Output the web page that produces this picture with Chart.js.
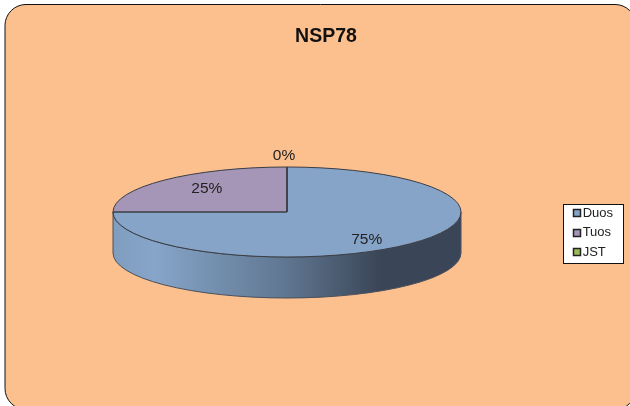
<!DOCTYPE html>
<html>
<head>
<meta charset="utf-8">
<style>
  html, body { margin: 0; padding: 0; background: #fff; overflow: hidden; }
  #wrap { width: 630px; height: 406px; position: relative; }
</style>
<script src="https://cdn.jsdelivr.net/npm/chart.js@4"></script>
</head>
<body>
<div id="wrap"><canvas id="c" width="630" height="406"></canvas></div>
<script>
'use strict';
const FONT = '"Liberation Sans", Arial, sans-serif';
const TITLE = 'NSP78';
const categories = ['Duos', 'Tuos', 'JST'];
const shares = [75, 25, 0];
const sliceColors = ['#86A4C8', '#A595B6', '#9BBB59'];

// Where the flattened pie ends up on the page.
const PIE = { cx: 287, cy: 212, rx: 174, ry: 45, depth: 41 };
// Label placement along each slice's mid angle, as fraction of rx/ry, plus a nudge.
const LABEL_FRAC = [[0.64, 0.85], [0.66, 0.75], [0, 1.27]];
const LABEL_NUDGE = [[1, 1], [1, 1], [-3, 1]];

// Maps the library's arc geometry to the ellipse.
const toPie = (arc, ctx) => {
  const sx = PIE.rx / arc.outerRadius, sy = PIE.ry / arc.outerRadius;
  ctx.translate(PIE.cx, PIE.cy);
  ctx.scale(sx, sy);
  ctx.translate(-arc.x, -arc.y);
};

const pie3d = {
  id: 'pie3d',
  beforeDraw(chart) {
    const ctx = chart.ctx, leg = chart.legend, hits = leg.legendHitBoxes;
    ctx.save();
    // chart frame, runs off the right and bottom edge
    ctx.beginPath();
    ctx.roundRect(5, 4.5, 631, 405, 21);
    ctx.fillStyle = '#FCC08F';
    ctx.fill();
    ctx.strokeStyle = '#111';
    ctx.lineWidth = 1;
    ctx.stroke();
    // legend box, hugging the rows rather than the full layout column
    const midOf = h => h.top + h.height / 2;
    const top = Math.round(midOf(hits[0]) - 9.5) + .5;
    const bottom = Math.round(midOf(hits[hits.length - 1]) + 10.5) + .5;
    const left = Math.round(leg.left) + .5, width = Math.round(leg.width);
    ctx.fillStyle = '#fff';
    ctx.fillRect(left, top, width, bottom - top);
    ctx.strokeStyle = '#111';
    ctx.strokeRect(left, top, width, bottom - top);
    ctx.restore();
  },
  afterDraw(chart) {
    // legend swatches sit closer to their text than the library's fixed gap allows
    const ctx = chart.ctx;
    ctx.save();
    chart.legend.legendHitBoxes.forEach((h, i) => {
      const x = Math.round(h.left) + 4.5, y = Math.round(h.top + h.height / 2 - 4) + .5;
      ctx.fillStyle = sliceColors[i];
      ctx.fillRect(x, y, 7, 7);
      ctx.strokeStyle = '#222';
      ctx.lineWidth = 1.5;
      ctx.strokeRect(x, y, 7, 7);
    });
    ctx.restore();
  },
  beforeDatasetDraw(chart) {
    const ctx = chart.ctx, arcs = chart.getDatasetMeta(0).data;
    ctx.save();
    // side wall: only the part of each slice that faces the viewer
    const { cx, cy, rx, ry, depth } = PIE;
    arcs.forEach(arc => {
      const a0 = Math.max(arc.startAngle, 0), a1 = Math.min(arc.endAngle, Math.PI);
      if (a1 <= a0) return;
      const g = ctx.createLinearGradient(cx - rx, 0, cx + rx, 0);
      g.addColorStop(0, '#7F9DBE');
      g.addColorStop(0.12, '#86A5C9');
      g.addColorStop(0.5, '#5F7690');
      g.addColorStop(0.77, '#3A4557');
      g.addColorStop(1, '#3A4557');
      ctx.beginPath();
      ctx.ellipse(cx, cy, rx, ry, 0, a0, a1);
      ctx.lineTo(cx + rx * Math.cos(a1), cy + ry * Math.sin(a1) + depth);
      ctx.ellipse(cx, cy + depth, rx, ry, 0, a1, a0, true);
      ctx.closePath();
      ctx.fillStyle = g;
      ctx.fill();
      ctx.strokeStyle = '#4a505c';
      ctx.lineWidth = 1;
      ctx.stroke();
    });
    // flatten the arcs the library draws next
    toPie(arcs[0], ctx);
  },
  afterDatasetDraw(chart) {
    const ctx = chart.ctx, arcs = chart.getDatasetMeta(0).data;
    ctx.restore();
    const { cx, cy, rx, ry } = PIE;
    ctx.save();
    ctx.strokeStyle = '#3a3e46';
    ctx.lineWidth = 1;
    // slice outlines stay thin, so they are stroked after the flattening is gone
    arcs.forEach(arc => {
      ctx.beginPath();
      ctx.moveTo(cx, cy);
      ctx.ellipse(cx, cy, rx, ry, 0, arc.startAngle, arc.endAngle);
      ctx.closePath();
      ctx.stroke();
    });
    ctx.fillStyle = '#222';
    ctx.font = '15.5px ' + FONT;
    ctx.textAlign = 'center';
    ctx.textBaseline = 'middle';
    const total = shares.reduce((a, b) => a + b, 0);
    arcs.forEach((arc, i) => {
      const mid = (arc.startAngle + arc.endAngle) / 2;
      const x = cx + Math.cos(mid) * rx * LABEL_FRAC[i][0] + LABEL_NUDGE[i][0];
      const y = cy + Math.sin(mid) * ry * LABEL_FRAC[i][1] + LABEL_NUDGE[i][1];
      ctx.fillText(Math.round(shares[i] / total * 100) + '%', x, y);
    });
    ctx.restore();
  },
};

new Chart(document.getElementById('c').getContext('2d'), {
  type: 'pie',
  data: {
    labels: categories,
    datasets: [{ data: shares, backgroundColor: sliceColors, borderWidth: 0 }],
  },
  plugins: [pie3d],
  options: {
    responsive: false,
    animation: false,
    layout: { padding: { left: 29, right: 7, top: 0, bottom: 11 } },
    plugins: {
      tooltip: { enabled: false },
      title: {
        display: true, text: TITLE, color: '#111',
        font: { family: FONT, size: 19.5, weight: 'bold' },
        padding: { top: 25, bottom: 22 },
      },
      legend: {
        position: 'right',
        fullSize: false,
        labels: {
          font: { family: FONT, size: 13 }, color: '#222',
          boxWidth: 7, boxHeight: 7, padding: 6.5,
          generateLabels(chart) {
            return Chart.overrides.pie.plugins.legend.labels.generateLabels(chart).map(l => ({ ...l, lineWidth: 0, fillStyle: 'transparent' }));
          },
        },
      },
    },
  },
});
</script>
</body>
</html>
